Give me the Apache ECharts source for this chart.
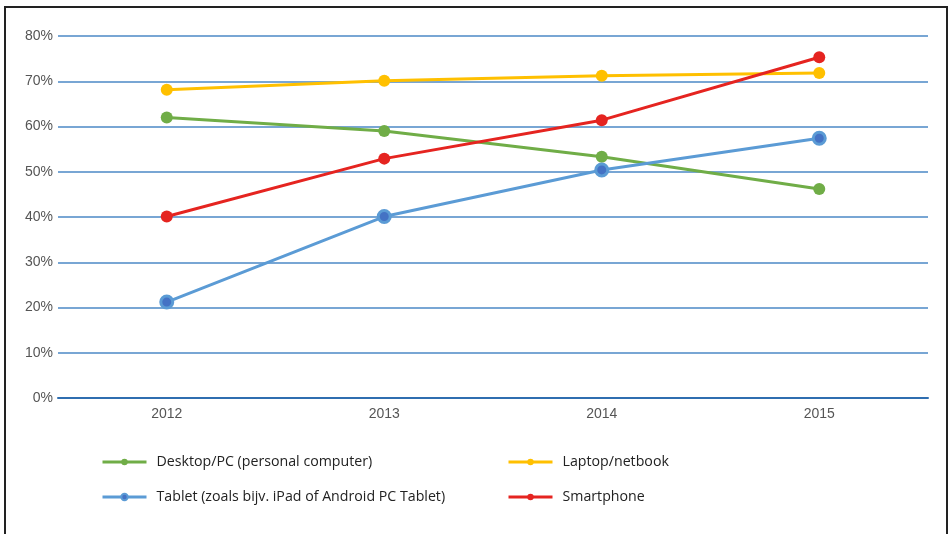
<!DOCTYPE html>
<html>
<head>
<meta charset="utf-8">
<script src="https://cdn.jsdelivr.net/npm/echarts@6/dist/echarts.min.js"></script>
<style>html,body{margin:0;padding:0;background:#fff}#c{width:950px;height:534px}</style>
</head>
<body>
<div id="c"></div>
<script>
const years = ['2012', '2013', '2014', '2015'];
const desktop = [62.0, 59.0, 53.3, 46.2];
const laptop = [68.1, 70.1, 71.2, 71.8];
const tablet = [21.2, 40.1, 50.4, 57.4];
const smartphone = [40.1, 52.9, 61.4, 75.3];
const names = ['Desktop/PC (personal computer)', 'Laptop/netbook', 'Tablet (zoals bijv. iPad of Android PC Tablet)', 'Smartphone'];

const chart = echarts.init(document.getElementById('c'), null, {renderer: 'canvas'});
function mk(name, data, color, fill, bw) {
  return {
    name: name, type: 'line', data: data, symbol: 'circle', symbolSize: 12,
    lineStyle: {color: color, width: 3},
    itemStyle: {color: fill || color, borderColor: color, borderWidth: bw || 0},
    emphasis: {disabled: true}, z: 3
  };
}
const legendText = {color: '#222', fontSize: 14.2, fontFamily: 'Open Sans', padding: [0, 0, 0, 5]};
const legendBase = {
  orient: 'vertical', top: 455, padding: 0,
  itemWidth: 44, itemHeight: 8, itemGap: 21, textStyle: legendText, selectedMode: false,
  lineStyle: {width: 3}
};
chart.setOption({
  animation: false,
  textStyle: {fontFamily: 'Liberation Sans'},
  graphic: [{
    type: 'polyline', shape: {points: [[5, 540], [5, 7], [947, 7], [947, 540]]},
    style: {stroke: '#222', lineWidth: 2, fill: null}, silent: true
  }],
  grid: {left: 58, right: 22, top: 36, bottom: 136, containLabel: false},
  xAxis: {
    type: 'category', data: years, boundaryGap: true,
    axisLine: {show: true, lineStyle: {color: '#2f6eb0', width: 2}},
    axisTick: {show: false},
    axisLabel: {color: '#555', fontSize: 14, margin: 9}
  },
  yAxis: {
    type: 'value', min: 0, max: 80, interval: 10,
    axisLine: {show: false}, axisTick: {show: false},
    axisLabel: {color: '#555', fontSize: 14, margin: 5, formatter: '{value}%'},
    splitLine: {lineStyle: {color: '#78a6d4', width: 2}}
  },
  legend: [
    Object.assign({}, legendBase, {data: [names[0], names[2]], left: 101}),
    Object.assign({}, legendBase, {data: [names[1], names[3]], left: 507})
  ],
  series: [
    mk(names[0], desktop, '#70ad47'),
    mk(names[1], laptop, '#ffc000'),
    mk(names[2], tablet, '#5b9bd5', '#4472c4', 3),
    mk(names[3], smartphone, '#e52420')
  ]
});
</script>
</body>
</html>
